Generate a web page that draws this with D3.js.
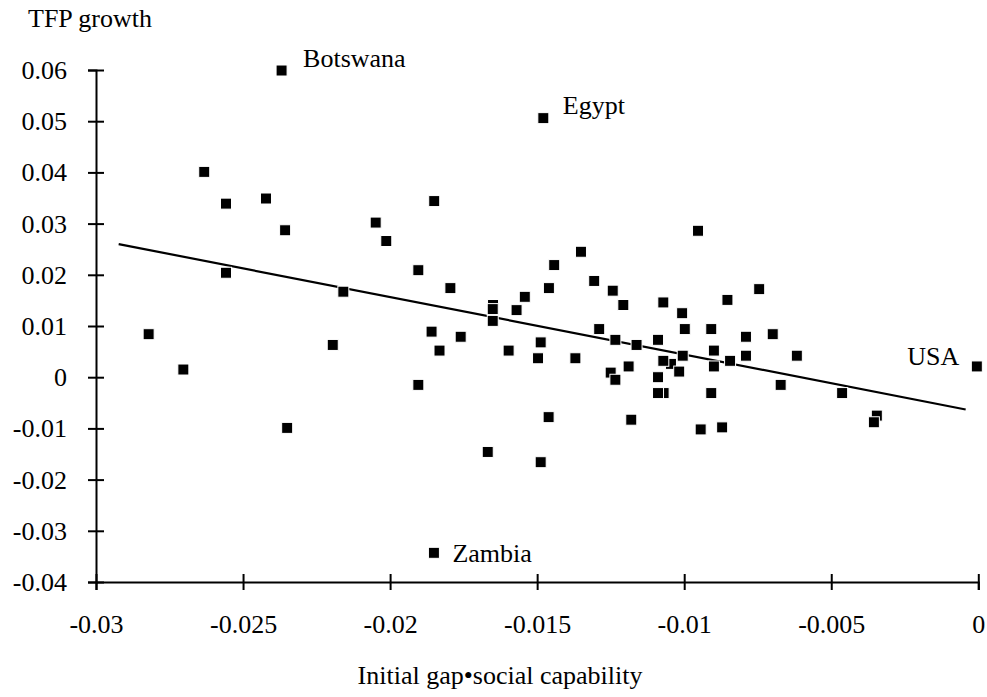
<!DOCTYPE html>
<head><style>
  body { margin: 0; background: #fff; }
  svg text { font-family: "Liberation Serif", "Times New Roman", Times, serif !important; fill: #000; }
</style></head>
<body>
    <div class="container"></div>
    <script src="https://d3js.org/d3.v7.min.js"></script>
    <script>
        // x: initial gap * social capability, y: TFP growth
        // the first four points are the labelled countries
        var countryNames = ['Botswana', 'Egypt', 'Zambia', 'USA'];
        var gapSocial = [
            -0.02369, -0.01479, -0.01851, -0.00005,
            -0.02632, -0.02558, -0.02422, -0.02357, -0.02049, -0.02558, -0.02159,
            -0.02821, -0.02195, -0.02703, -0.02350, -0.01850, -0.02013, -0.01904,
            -0.01795, -0.01351, -0.01442, -0.01306, -0.01243, -0.01460, -0.01542,
            -0.01650, -0.01651, -0.01570, -0.01651, -0.01859, -0.01760, -0.01832,
            -0.01597, -0.01488, -0.01497, -0.01370, -0.01289, -0.01234, -0.01250,
            -0.01234, -0.01207, -0.01071, -0.01007, -0.00853, -0.00745, -0.00953,
            -0.01162, -0.01089, -0.00998, -0.00908, -0.00790, -0.00699, -0.00899,
            -0.00790, -0.00617, -0.01045, -0.01005, -0.01071, -0.00844, -0.01189,
            -0.00899, -0.01017, -0.01089, -0.01070, -0.01089, -0.00908, -0.00672,
            -0.00463, -0.00345, -0.00355, -0.01180, -0.00944, -0.00871, -0.01904,
            -0.01461, -0.01668, -0.01488
        ];
        var tfpGrowth = [
            0.0599, 0.0506, -0.0343, 0.0021,
            0.0401, 0.0339, 0.0349, 0.0287, 0.0302, 0.0204, 0.0167,
            0.0084, 0.0063, 0.0015, -0.0099, 0.0344, 0.0266, 0.0209,
            0.0174, 0.0245, 0.0219, 0.0188, 0.0169, 0.0174, 0.0157,
            0.0141, 0.0133, 0.0131, 0.0110, 0.0089, 0.0079, 0.0052,
            0.0052, 0.0068, 0.0037, 0.0037, 0.0094, 0.0073, 0.0009,
            -0.0005, 0.0141, 0.0146, 0.0125, 0.0151, 0.0172, 0.0286,
            0.0063, 0.0073, 0.0094, 0.0094, 0.0079, 0.0084, 0.0052,
            0.0042, 0.0042, 0.0026, 0.0042, 0.0032, 0.0032, 0.0021,
            0.0021, 0.0011, 0.0000, -0.0031, -0.0031, -0.0031, -0.0015,
            -0.0031, -0.0075, -0.0088, -0.0083, -0.0102, -0.0098, -0.0015,
            -0.0078, -0.0146, -0.0166
        ];
        // fitted line end points
        var fitX = [-0.02923, -0.00043];
        var fitY = [0.0260, -0.0063];

        var xTicks = [-0.03, -0.025, -0.02, -0.015, -0.01, -0.005, 0];
        var xTickLabels = ['-0.03', '-0.025', '-0.02', '-0.015', '-0.01', '-0.005', '0'];
        var yTicks = [0.06, 0.05, 0.04, 0.03, 0.02, 0.01, 0, -0.01, -0.02, -0.03, -0.04];
        var yTickLabels = ['0.06', '0.05', '0.04', '0.03', '0.02', '0.01', '0', '-0.01', '-0.02', '-0.03', '-0.04'];

        var svg = d3.select('.container')
                    .append('svg')
                    .attr('width', 987)
                    .attr('height', 697);

        var x = d3.scaleLinear().domain([-0.03, 0]).range([96, 978.3]);
        var y = d3.scaleLinear().domain([-0.04, 0.06]).range([582, 70]);

        var xaxis = d3.axisBottom(x)
                      .tickValues(xTicks)
                      .tickFormat(function(d, i) { return xTickLabels[i]; })
                      .tickSizeOuter(0)
                      .tickSize(8);
        var yaxis = d3.axisLeft(y)
                      .tickValues(yTicks)
                      .tickFormat(function(d, i) { return yTickLabels[i]; })
                      .tickSizeOuter(0)
                      .tickSize(8);

        var gx = svg.append('g')
                    .attr('transform', 'translate(0,' + y(-0.04) + ')')
                    .call(xaxis);
        gx.attr('font-family', null).attr('font-size', 26);
        gx.selectAll('.tick line').attr('y1', -8).attr('stroke-width', 2);
        gx.selectAll('.tick text').attr('y', 51).attr('dy', 0);
        gx.select('.domain').attr('stroke-width', 2);

        var gy = svg.append('g')
                    .attr('transform', 'translate(' + x(-0.03) + ',0)')
                    .call(yaxis);
        gy.attr('font-family', null).attr('font-size', 26);
        gy.selectAll('.tick line').attr('x1', 8).attr('stroke-width', 2);
        gy.selectAll('.tick text').attr('x', -29).attr('dy', '0.33em');
        gy.select('.domain').attr('stroke-width', 2);

        // regression line
        svg.append('line')
           .attr('x1', x(fitX[0])).attr('y1', y(fitY[0]))
           .attr('x2', x(fitX[1])).attr('y2', y(fitY[1]))
           .attr('stroke', '#000')
           .attr('stroke-width', 2.2);

        // markers
        var pts = gapSocial.map(function(v, i) { return { gx: v, tfp: tfpGrowth[i] }; });
        svg.append('g').selectAll('rect')
           .data(pts)
           .enter().append('rect')
           .attr('x', function(d) { return x(d.gx) - 5.5; })
           .attr('y', function(d) { return y(d.tfp) - 5.5; })
           .attr('width', 11)
           .attr('height', 11)
           .attr('fill', '#000')
           .attr('stroke', '#fff')
           .attr('stroke-width', 1);

        // country labels
        var labelOffsets = [[21.5, -3.5], [19.5, -4.5], [18.5, 9.5], [-17.5, -1.5]];
        svg.append('g').selectAll('text')
           .data(countryNames)
           .enter().append('text')
           .attr('x', function(d, i) { return x(gapSocial[i]) + labelOffsets[i][0]; })
           .attr('y', function(d, i) { return y(tfpGrowth[i]) + labelOffsets[i][1]; })
           .attr('text-anchor', function(d, i) { return labelOffsets[i][0] < 0 ? 'end' : 'start'; })
           .attr('font-size', 26)
           .text(function(d) { return d; });

        // axis titles
        svg.append('text')
           .attr('x', 28).attr('y', 27)
           .attr('font-size', 26)
           .text('TFP growth');
        svg.append('text')
           .attr('x', 500).attr('y', 684)
           .attr('text-anchor', 'middle')
           .attr('font-size', 26)
           .text('Initial gap\u2022social capability');
    </script>
</body>
